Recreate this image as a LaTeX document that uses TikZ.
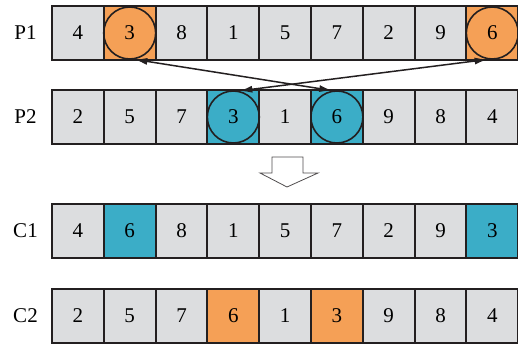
\documentclass[tikz,border=0pt]{standalone}
\usepackage{fontspec}
\setmainfont{Liberation Serif}
\usetikzlibrary{arrows.meta}

\definecolor{cellgray}{RGB}{220,221,223}
\definecolor{orng}{RGB}{245,160,86}
\definecolor{teal}{RGB}{59,173,199}
\definecolor{ink}{RGB}{35,31,32}

\tikzset{
	cell/.style={draw=ink, fill=cellgray, line width=2pt, minimum width=51.8pt, minimum height=54pt, inner sep=0pt, outer sep=0pt},
	ring/.style={draw=ink, circle, line width=1.6pt, minimum size=52pt, inner sep=0pt},
	rowlabel/.style={inner sep=0pt},
	swap/.style={{Latex[length=13pt,width=7pt]}-{Latex[length=13pt,width=7pt]}, draw=ink, line width=1.5pt}
}

\begin{document}
\begin{tikzpicture}[x=1pt, y=1pt, font=\fontsize{21}{25}\selectfont]
	\useasboundingbox (0,0) rectangle (518,343);

	% parents and children, one row of nine genes each
	\foreach \v/\c [count=\i] in {4/cellgray,3/orng,8/cellgray,1/cellgray,5/cellgray,7/cellgray,2/cellgray,9/cellgray,6/orng}
		\node[cell, fill=\c] (p1-\i) at (26.1+51.8*\i, 310) {\v};
	\foreach \v/\c [count=\i] in {2/cellgray,5/cellgray,7/cellgray,3/teal,1/cellgray,6/teal,9/cellgray,8/cellgray,4/cellgray}
		\node[cell, fill=\c] (p2-\i) at (26.1+51.8*\i, 226) {\v};
	\foreach \v/\c [count=\i] in {4/cellgray,6/teal,8/cellgray,1/cellgray,5/cellgray,7/cellgray,2/cellgray,9/cellgray,3/teal}
		\node[cell, fill=\c] (c1-\i) at (26.1+51.8*\i, 112) {\v};
	\foreach \v/\c [count=\i] in {2/cellgray,5/cellgray,7/cellgray,6/orng,1/cellgray,3/orng,9/cellgray,8/cellgray,4/cellgray}
		\node[cell, fill=\c] (c2-\i) at (26.1+51.8*\i, 27) {\v};

	\node[rowlabel] (lp1) at (25.5, 310) {P1};
	\node[rowlabel] (lp2) at (25.5, 226) {P2};
	\node[rowlabel] (lc1) at (25.5, 112) {C1};
	\node[rowlabel] (lc2) at (25.5, 27) {C2};

	% selected genes
	\node[ring] (o12) at (p1-2.center) {};
	\node[ring] (o19) at (p1-9.center) {};
	\node[ring] (o24) at (p2-4.center) {};
	\node[ring] (o26) at (p2-6.center) {};

	\draw[swap] (o12.-80) -- (o26.100);
	\draw[swap] (o24.77) -- (o19.-100);

	% hollow arrow down to the children
	\draw[draw=ink!80, line width=0.8pt, fill=white]
		(272,186) -- (303,186) -- (303,170) -- (318,170) -- (287,156) -- (260,170) -- (272,170) -- cycle;
\end{tikzpicture}
\end{document}
